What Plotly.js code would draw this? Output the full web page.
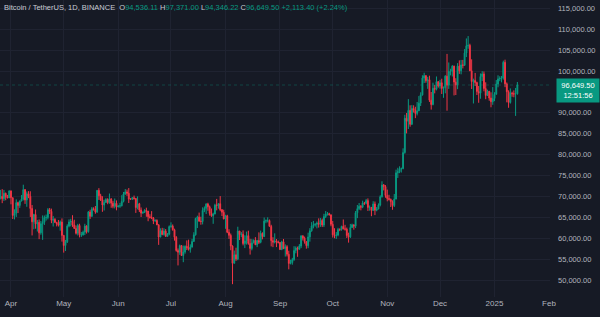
<!DOCTYPE html>
<html>
<head>
<meta charset="utf-8">
<script src="https://cdn.plot.ly/plotly-3.0.1.min.js"></script>
<style>
html,body{margin:0;padding:0;background:#161a25;}
#chart{width:600px;height:317px;}
</style>
</head>
<body>
<div id="chart"></div>
<script>
// Daily candles BTC/USDT, from 2024-03-26 to 2025-01-14 (one row per month)
const firstDay = '2024-03-26';

const openPrices = [
  69880, 69988, 69452, 70744, 69892, 69645,
  71333, 69702, 65446, 65980, 68508, 67837, 68896, 69360, 71620, 69146, 70631, 70006, 67116, 63924, 65661, 63419, 63793, 61277, 63470, 63818, 64940, 64941, 66819, 66414, 64289, 64498, 63770, 63461, 63118, 63866,
  60672, 58254, 59123, 62889, 63891, 64031, 63161, 62334, 61187, 63049, 60792, 60793, 61448, 62901, 61553, 66256, 65232, 67051, 66940, 66278, 71446, 70136, 69123, 67929, 68526, 69265, 68518, 69395, 68366, 67635, 68355,
  67491, 67706, 67752, 68804, 70567, 71082, 70757, 69342, 69305, 69648, 69512, 67322, 68242, 66747, 66006, 66191, 66639, 66491, 65140, 64960, 64828, 64096, 64252, 63180, 60277, 61806, 60864, 61706, 60427, 60986,
  62772, 62900, 62023, 60208, 57050, 56639, 58231, 55857, 56705, 58050, 57725, 57339, 57889, 59204, 60797, 64724, 65043, 64087, 63987, 66660, 67139, 68165, 67532, 65936, 65372, 65777, 67912, 67813, 68255, 66820, 66201,
  64619, 65357, 61415, 60680, 58116, 53991, 56034, 55027, 61710, 60880, 60945, 58719, 59354, 60609, 58737, 57560, 58874, 59491, 58427, 59438, 59013, 61157, 60381, 64094, 64178, 64220, 62834, 59416, 59034, 59359, 59123,
  58973, 57301, 59132, 57487, 57970, 56160, 53962, 54160, 54869, 57042, 57635, 57339, 58127, 60572, 60005, 59183, 58213, 60309, 61759, 62947, 63201, 63348, 63578, 63339, 64262, 63152, 65173, 65769, 65858, 65602,
  63327, 60805, 60650, 60752, 62087, 62059, 62819, 62224, 62161, 60636, 60326, 62540, 63206, 62870, 66083, 67074, 67620, 67421, 68428, 68362, 69001, 67367, 67378, 66653, 68198, 66698, 67014, 67929, 69907, 72720, 72339,
  70215, 69482, 69289, 68742, 67811, 69359, 75639, 75905, 76538, 76649, 80475, 88701, 87955, 90585, 87250, 91032, 90587, 89855, 90464, 92310, 94287, 98317, 98892, 97673, 97900, 93010, 91965, 95863, 95643, 97460,
  96407, 97185, 95840, 96002, 98768, 96593, 99921, 99923, 101170, 97355, 96675, 101173, 100043, 101459, 101372, 104298, 106029, 106140, 100041, 97490, 97756, 97225, 95104, 94686, 98676, 99299, 95795, 94164, 95163, 93530, 92643,
  93429, 94419, 96886, 98107, 98236, 98314, 102078, 96923, 95043, 92484, 94701, 94566, 94488, 94536.11
];

const highPrices = [
  71561, 71740, 71552, 70913, 70355, 71377,
  71342, 69708, 66914, 69291, 68725, 69000, 70326, 72797, 71758, 71172, 71256, 71227, 67931, 65840, 66867, 64365, 64476, 64125, 65450, 65419, 65658, 67199, 67232, 67075, 65297, 64797, 63923, 64361, 64228, 64734,
  60780, 59602, 63320, 64494, 64646, 65500, 64422, 63038, 63432, 63458, 61495, 61818, 63450, 63099, 66500, 66800, 67458, 67400, 67700, 71515, 71979, 70623, 70041, 69220, 69582, 69562, 70687, 69590, 68938, 69500, 69036,
  67859, 68451, 70288, 71063, 71758, 71625, 71997, 69563, 69860, 70195, 69560, 70000, 68449, 67350, 66400, 66950, 67298, 66500, 65738, 66482, 65067, 64529, 64520, 63369, 62360, 62480, 62390, 62190, 61218, 63058,
  63800, 63288, 62272, 60498, 57546, 58475, 58374, 58236, 58296, 59470, 59650, 58526, 59850, 61420, 64900, 65388, 66128, 65133, 67386, 67598, 68366, 68480, 67815, 67102, 66110, 68236, 69399, 68319, 70079, 66987, 66810,
  65593, 65596, 62134, 61117, 58288, 57040, 57726, 62745, 61744, 61470, 61858, 60700, 61578, 61800, 59849, 59817, 59700, 60262, 59617, 61396, 61820, 61400, 64955, 64491, 65000, 64477, 63210, 60234, 61166, 59800, 59432,
  59054, 59400, 59815, 58519, 58327, 56995, 54850, 55300, 58088, 58044, 57991, 58588, 60648, 60660, 60381, 59210, 61320, 62400, 63850, 64133, 63559, 64000, 64745, 64817, 64700, 65839, 66498, 66260, 66076, 65619,
  64130, 62392, 61469, 62484, 62370, 62986, 64478, 63200, 62543, 61321, 63417, 63480, 63285, 66500, 67950, 68424, 67939, 68969, 68693, 69400, 69520, 67836, 67450, 68850, 68771, 67454, 68332, 70270, 73620, 72961, 72700,
  71632, 70392, 69498, 69059, 70577, 76400, 76850, 77199, 76900, 81500, 89530, 89956, 93265, 91790, 91850, 91789, 91440, 92594, 94002, 94902, 98984, 99588, 98767, 98600, 98871, 94972, 97208, 96650, 98693, 97499,
  97888, 98150, 96300, 99000, 104088, 102040, 100548, 101399, 101272, 98270, 101888, 102540, 102650, 102650, 105250, 107793, 108353, 106524, 102800, 98174, 99540, 97448, 96416, 99416, 99963, 99884, 97294, 95525, 95174, 94903, 96150,
  94929, 97839, 98976, 98734, 98813, 102482, 102712, 97258, 95382, 95837, 95050, 95363, 95940, 97371
];

const lowPrices = [
  69280, 68381, 68903, 69076, 69601, 69624,
  68110, 64586, 64493, 65064, 66011, 67245, 68816, 69041, 68212, 67518, 69571, 65086, 60660, 62134, 62274, 61600, 59768, 60833, 59600, 63172, 64212, 64500, 65800, 63589, 62794, 63735, 62824, 62794, 61793, 59191,
  56552, 56937, 58848, 62600, 62822, 62700, 62261, 60887, 60648, 60187, 60285, 60632, 60750, 61108, 61327, 64613, 65100, 66600, 65857, 66060, 69162, 68900, 66312, 66622, 68515, 68128, 68250, 67278, 67152, 67128, 66670,
  67400, 67262, 67612, 68567, 70383, 70119, 68420, 69222, 69125, 69231, 66051, 66900, 66251, 65072, 65848, 66034, 65130, 64060, 64693, 64560, 63379, 63943, 63178, 58402, 60239, 60713, 60630, 60360, 60380, 60700,
  62500, 61800, 59419, 56771, 53485, 56018, 55740, 54260, 56289, 57157, 57050, 56542, 57756, 59187, 60632, 62430, 63900, 63222, 63300, 66222, 65777, 66573, 65400, 65106, 63442, 65728, 66660, 67066, 66451, 65301, 64526,
  62248, 61198, 59836, 57122, 49000, 53969, 54566, 54730, 59560, 60242, 58286, 57633, 58476, 58433, 56078, 57098, 58785, 58399, 57864, 58600, 58783, 59724, 60342, 63592, 63774, 62800, 58034, 57860, 58752, 57875, 58744,
  57201, 57128, 57415, 55606, 55643, 52550, 53745, 53653, 54591, 56386, 55545, 57311, 57632, 59450, 58696, 57493, 57610, 59174, 61555, 62350, 62758, 62357, 62538, 62700, 62670, 62670, 64817, 65422, 65420, 62856,
  60164, 59981, 59828, 60459, 61689, 61793, 62128, 61822, 60043, 58946, 60054, 62464, 62044, 62422, 64800, 66750, 66666, 67177, 67952, 68100, 66518, 66571, 65260, 66569, 65521, 66439, 66913, 67618, 69730, 71436, 69685,
  68820, 69020, 67458, 66800, 67458, 69299, 74415, 75560, 75714, 76490, 80216, 85072, 86127, 86668, 87073, 90056, 88722, 89376, 90389, 91619, 94120, 97122, 97182, 95734, 92600, 90770, 91792, 94650, 95363, 96020,
  95770, 94500, 93578, 94660, 90500, 95718, 98948, 98692, 94150, 94256, 95658, 99311, 99205, 100626, 101227, 103333, 105321, 100000, 95700, 92232, 96398, 94250, 92403, 93365, 97596, 95137, 93253, 94014, 92881, 91317, 91914,
  92788, 94392, 96100, 97562, 97275, 97926, 96132, 92500, 91204, 92206, 93831, 93712, 89256, 94346.22
];

const closePrices = [
  69988, 69452, 70744, 69892, 69645, 71333,
  69702, 65446, 65980, 68508, 67837, 68896, 69360, 71620, 69146, 70631, 70006, 67116, 63924, 65661, 63419, 63793, 61277, 63470, 63818, 64940, 64941, 66819, 66414, 64289, 64498, 63770, 63461, 63118, 63866, 60672,
  58254, 59123, 62889, 63891, 64031, 63161, 62334, 61187, 63049, 60792, 60793, 61448, 62901, 61553, 66256, 65232, 67051, 66940, 66278, 71446, 70136, 69123, 67929, 68526, 69265, 68518, 69395, 68366, 67635, 68355, 67491,
  67706, 67752, 68804, 70567, 71082, 70757, 69342, 69305, 69648, 69512, 67322, 68242, 66747, 66006, 66191, 66639, 66491, 65140, 64960, 64828, 64096, 64252, 63180, 60277, 61806, 60864, 61706, 60427, 60986, 62772,
  62900, 62023, 60208, 57050, 56639, 58231, 55857, 56705, 58050, 57725, 57339, 57889, 59204, 60797, 64724, 65043, 64087, 63987, 66660, 67139, 68165, 67532, 65936, 65372, 65777, 67912, 67813, 68255, 66820, 66201, 64619,
  65357, 61415, 60680, 58116, 53991, 56034, 55027, 61710, 60880, 60945, 58719, 59354, 60609, 58737, 57560, 58874, 59491, 58427, 59438, 59013, 61157, 60381, 64094, 64178, 64220, 62834, 59416, 59034, 59359, 59123, 58973,
  57301, 59132, 57487, 57970, 56160, 53962, 54160, 54869, 57042, 57635, 57339, 58127, 60572, 60005, 59183, 58213, 60309, 61759, 62947, 63201, 63348, 63578, 63339, 64262, 63152, 65173, 65769, 65858, 65602, 63327,
  60805, 60650, 60752, 62087, 62059, 62819, 62224, 62161, 60636, 60326, 62540, 63206, 62870, 66083, 67074, 67620, 67421, 68428, 68362, 69001, 67367, 67378, 66653, 68198, 66698, 67014, 67929, 69907, 72720, 72339, 70215,
  69482, 69289, 68742, 67811, 69359, 75639, 75905, 76538, 76649, 80475, 88701, 87955, 90585, 87250, 91032, 90587, 89855, 90464, 92310, 94287, 98317, 98892, 97673, 97900, 93010, 91965, 95863, 95643, 97460, 96407,
  97185, 95840, 96002, 98768, 96593, 99921, 99923, 101170, 97355, 96675, 101173, 100043, 101459, 101372, 104298, 106029, 106140, 100041, 97490, 97756, 97225, 95104, 94686, 98676, 99299, 95795, 94164, 95163, 93530, 92643, 93429,
  94419, 96886, 98107, 98236, 98314, 102078, 96923, 95043, 92484, 94701, 94566, 94488, 94536.11, 96649.50
];

const priceTicks = [50000, 55000, 60000, 65000, 70000, 75000, 80000, 85000, 90000, 100000, 105000, 110000, 115000];
const monthTicks = ['2024-04-01','2024-05-01','2024-06-01','2024-07-01','2024-08-01','2024-09-01','2024-10-01','2024-11-01','2024-12-01','2025-01-01','2025-02-01'];
const monthLabels = ['Apr','May','Jun','Jul','Aug','Sep','Oct','Nov','Dec','2025','Feb'];

const lastPrice = 96649.50;
const lastPriceText = '96,649.50';
const countdownText = '12:51:56';
const headerTitle = 'Bitcoin / TetherUS, 1D, BINANCE';
const headerValues = {O: '94,536.11', H: '97,371.00', L: '94,346.22', C: '96,649.50', chg: '+2,113.40 (+2.24%)'};

// consecutive daily dates
const dates = [];
{
  const d0 = new Date(firstDay + 'T00:00:00Z');
  for (let i = 0; i < closePrices.length; i++) {
    const d = new Date(d0.getTime() + i * 86400000);
    dates.push(d.toISOString().slice(0, 10));
  }
}

const UP = '#089981', DOWN = '#f23645';
const TXT = '#b2b5be', GRID = '#1f2331', BG = '#161a25';

const trace = {
  type: 'candlestick',
  x: dates, open: openPrices, high: highPrices, low: lowPrices, close: closePrices,
  increasing: {line: {color: UP, width: 1}, fillcolor: UP},
  decreasing: {line: {color: DOWN, width: 1}, fillcolor: DOWN},
  whiskerwidth: 0,
  hoverinfo: 'skip',
  showlegend: false
};

const g = (t) => '<span style="color:' + UP + '">' + t + '</span>';
const headerText = headerTitle + '  O' + g(headerValues.O) + ' H' + g(headerValues.H) +
  ' L' + g(headerValues.L) + ' C' + g(headerValues.C) + ' ' + g(headerValues.chg);

const layout = {
  width: 600, height: 317,
  paper_bgcolor: BG, plot_bgcolor: BG,
  margin: {l: 0, r: 50, t: 0, b: 20},
  font: {family: 'Liberation Sans, Arial, sans-serif', size: 8, color: TXT},
  showlegend: false,
  hovermode: false,
  xaxis: {
    type: 'date',
    range: ['2024-03-25 18:09', '2025-02-01 13:30'],
    tickvals: monthTicks, ticktext: monthLabels,
    showgrid: true, gridcolor: GRID, gridwidth: 1,
    zeroline: false, showline: false, ticks: '',
    tickfont: {size: 8, color: TXT},
    rangeslider: {visible: false},
    fixedrange: true
  },
  yaxis: {
    side: 'right',
    range: [45933, 116986],
    tickvals: priceTicks,
    tickformat: ',.2f',
    showgrid: true, gridcolor: GRID, gridwidth: 1,
    zeroline: false, showline: false, ticks: '',
    ticklabelstandoff: 7,
    tickfont: {size: 7.5, color: TXT},
    fixedrange: true
  },
  shapes: [{
    type: 'line', xref: 'paper', x0: 0, x1: 1, yref: 'y', y0: lastPrice, y1: lastPrice,
    line: {color: 'rgba(8,153,129,0.35)', width: 1, dash: 'dot'}
  }],
  annotations: [
    {
      xref: 'paper', yref: 'paper', x: 0, y: 1, xanchor: 'left', yanchor: 'top',
      xshift: 2, yshift: -1, showarrow: false, align: 'left',
      text: headerText, font: {size: 7.5, color: '#c8cbd3'}
    },
    {
      xref: 'paper', yref: 'y', x: 1, y: lastPrice, xanchor: 'left', yanchor: 'middle',
      xshift: 6, yshift: -5, showarrow: false, align: 'center',
      text: lastPriceText + '<br>' + countdownText,
      bgcolor: UP, borderpad: 2, width: 38,
      font: {size: 7.5, color: '#ffffff'}
    }
  ]
};

Plotly.newPlot('chart', [trace], layout, {displayModeBar: false, staticPlot: true});
</script>
</body>
</html>
